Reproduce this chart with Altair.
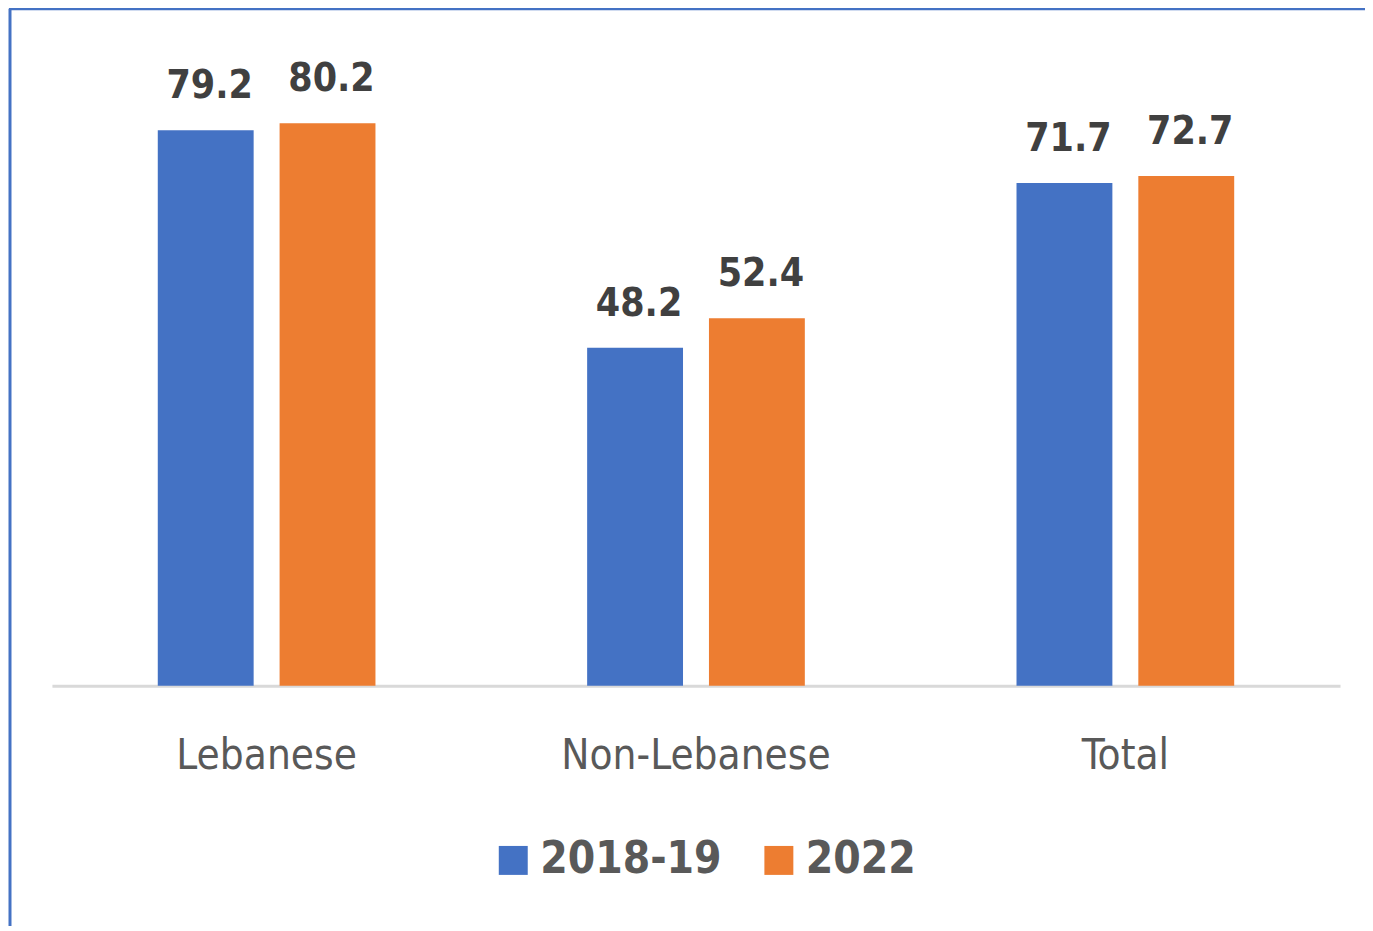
import altair as alt
import pandas as pd

categories = ["Lebanese", "Non-Lebanese", "Total"]
periods = ["2018-19", "2022"]
values_2018_19 = [79.2, 48.2, 71.7]
values_2022 = [80.2, 52.4, 72.7]
colors = ["#4472C4", "#ED7D31"]

rows = []
for c, a, b in zip(categories, values_2018_19, values_2022):
    rows.append({"category": c, "period": periods[0], "value": a})
    rows.append({"category": c, "period": periods[1], "value": b})
df = pd.DataFrame(rows)

FONT = "Liberation Sans Narrow, DejaVu Sans Condensed, Arial Narrow, sans-serif"

x = alt.X(
    "category:N", sort=categories, title=None,
    scale=alt.Scale(paddingInner=0.493, paddingOuter=0.2465),
    axis=alt.Axis(
        domain=True, domainColor="#d9d9d9", domainWidth=3, ticks=False,
        labelAngle=0, labelFont=FONT, labelFontSize=42, labelColor="#595959",
        labelPadding=83, labelBaseline="alphabetic", labelLimit=600, grid=False,
    ),
)
xo = alt.XOffset("period:N", sort=periods,
                 scale=alt.Scale(paddingInner=0.213, paddingOuter=0))
y = alt.Y("value:Q", scale=alt.Scale(domain=[0, 90]), axis=None)

base = alt.Chart(df)

bars = base.mark_bar().encode(
    x=x, xOffset=xo, y=y,
    color=alt.Color(
        "period:N", sort=periods,
        scale=alt.Scale(domain=periods, range=colors),
        legend=alt.Legend(
            title=None, orient="none", legendX=440, legendY=785,
            direction="horizontal", symbolType="square", symbolSize=841,
            symbolStrokeWidth=0, symbolOpacity=1,
            labelFont=FONT, labelFontSize=44, labelFontWeight="bold",
            labelColor="#595959", labelOffset=5, columnPadding=35,
            labelLimit=500,
        ),
    ),
)

labels = base.mark_text(
    dy=-32, dx=4, baseline="alphabetic", fontSize=39, fontWeight="bold",
    font=FONT, color="#404040",
).encode(x=x, xOffset=xo, y=y, text=alt.Text("value:Q", format=".1f"))

border_df = pd.DataFrame({"k": [0]})
left_border = alt.Chart(border_df).mark_rule(color="#4472C4", strokeWidth=3).encode(
    x=alt.value(-42), y=alt.value(-46), y2=alt.value(880)
)
top_border = alt.Chart(border_df).mark_rule(color="#4472C4", strokeWidth=3).encode(
    x=alt.value(-43), x2=alt.value(1320), y=alt.value(-46)
)

chart = alt.layer(bars, labels, left_border, top_border).properties(
    width=1290, height=632,
    padding={"left": 44, "top": 46, "right": 25, "bottom": 240},
    autosize=alt.AutoSizeParams(type="none"),
    background="white",
).configure_view(strokeWidth=0)

chart.save("out.html", embed_options={"renderer": "svg", "actions": False})
